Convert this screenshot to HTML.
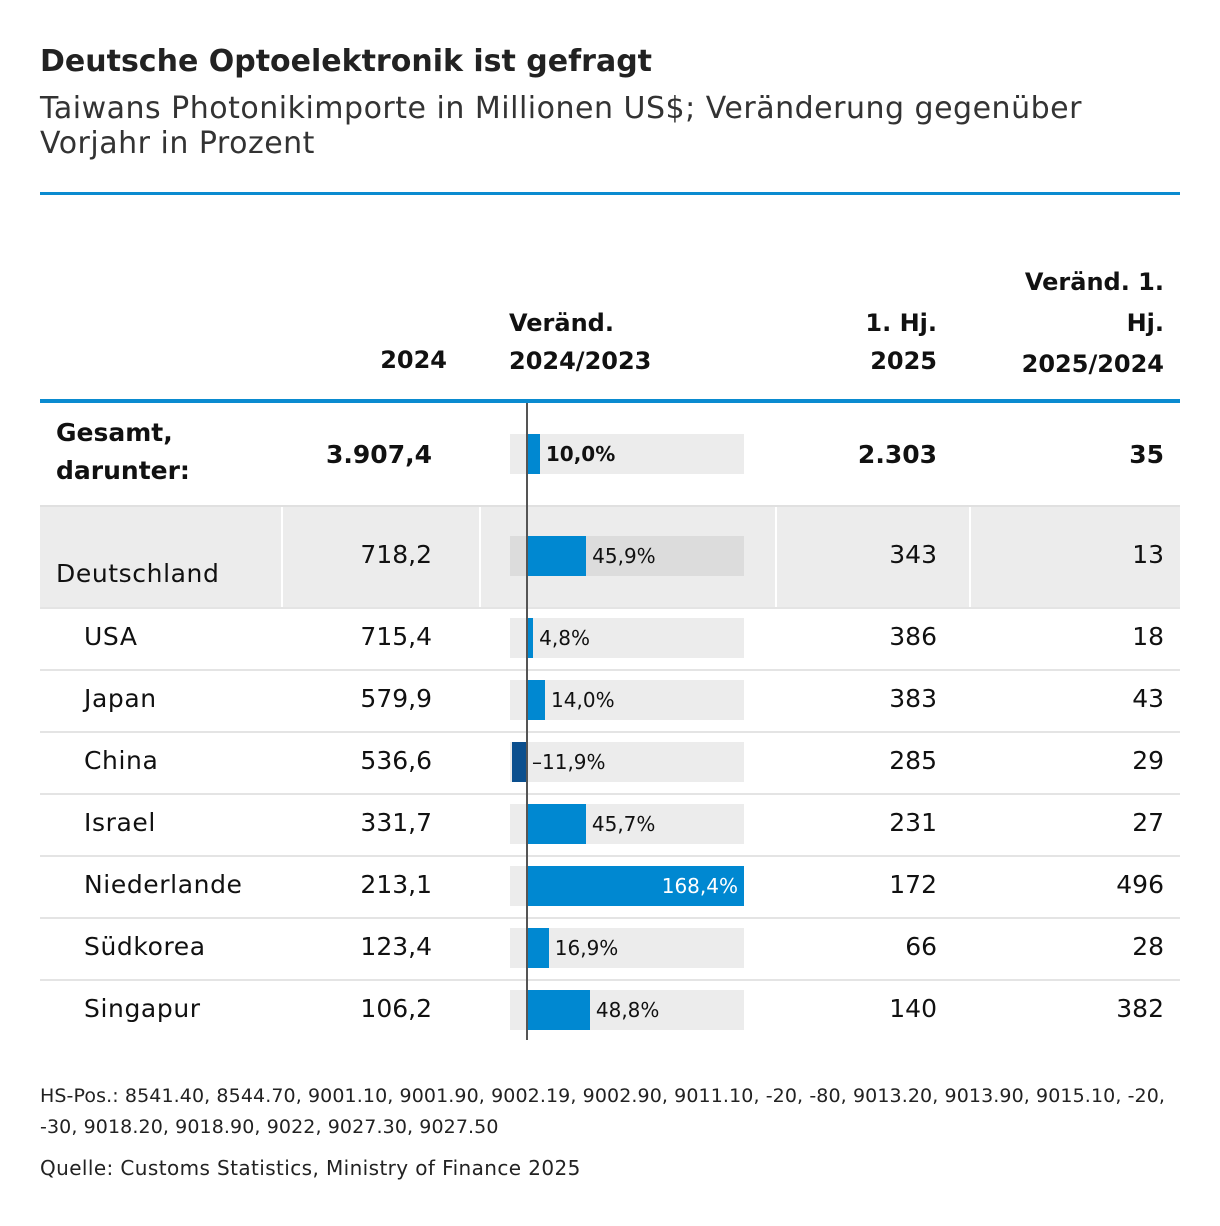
<!DOCTYPE html>
<html><head><meta charset="utf-8"><style>
body{margin:0;background:#fff;font-family:"DejaVu Sans","Liberation Sans",sans-serif;color:#111;}
#root{position:relative;width:1220px;height:1226px;overflow:hidden;}
.a{position:absolute;white-space:nowrap;}
.r{text-align:right;}
</style></head><body><div id="root">
<div class="a" style="left:40px;top:44px;font-size:30px;font-weight:bold;color:#222">Deutsche Optoelektronik ist gefragt</div>
<div class="a" style="left:40px;top:91px;font-size:30px;line-height:35px;color:#333;white-space:normal;width:1100px;letter-spacing:0.5px">Taiwans Photonikimporte in Millionen US$; Veränderung gegenüber Vorjahr in Prozent</div>
<div class="a" style="left:40px;top:192px;width:1140px;height:3px;background:#0a8bd0"></div>
<div class="a r" style="left:300px;width:147px;top:346px;font-size:24px;font-weight:bold">2024</div>
<div class="a" style="left:509px;top:304px;font-size:24px;font-weight:bold;line-height:38px">Veränd.<br>2024/2023</div>
<div class="a r" style="left:780px;width:157px;top:304px;font-size:24px;font-weight:bold;line-height:38px">1. Hj.<br>2025</div>
<div class="a r" style="left:960px;width:204px;top:262px;font-size:24px;font-weight:bold;line-height:41px">Veränd. 1.<br>Hj.<br>2025/2024</div>
<div class="a" style="left:40px;top:399px;width:1140px;height:4px;background:#0a8bd0"></div>
<div class="a" style="left:40px;top:1081px;font-size:19px;line-height:31px;color:#222;white-space:normal;width:1140px;letter-spacing:0.1px">HS-Pos.: 8541.40, 8544.70, 9001.10, 9001.90, 9002.19, 9002.90, 9011.10, -20, -80, 9013.20, 9013.90, 9015.10, -20, -30, 9018.20, 9018.90, 9022, 9027.30, 9027.50</div>
<div class="a" style="left:40px;top:1156px;font-size:20px;color:#222;letter-spacing:0.4px">Quelle: Customs Statistics, Ministry of Finance 2025</div>
</div>
<script>
const countries=["Deutschland","USA","Japan","China","Israel","Niederlande","Südkorea","Singapur"];
const values2024=["718,2","715,4","579,9","536,6","331,7","213,1","123,4","106,2"];
const change2024=[45.9,4.8,14.0,-11.9,45.7,168.4,16.9,48.8];
const h1_2025=["343","386","383","285","231","172","66","140"];
const changeH1=["13","18","43","29","27","496","28","382"];
const totalChange=10.0;
const root=document.getElementById('root');
const zeroX=527, scale=(744-527)/168.4;
function xs(v){return zeroX+v*scale;}
function fmt(v){return (v<0?'–':'')+Math.abs(v).toFixed(1).replace('.',',')+'%';}
function div(name,css,text){const d=document.createElement('div');d.className='a';d.style.cssText=css;if(text!==undefined)d.textContent=text;


root.appendChild(d);return d;}
function bar(v,cy,bold,name){
 div(name+'-track',`left:510px;top:${cy-20}px;width:234px;height:40px;background:${name==='bar-deutschland'?'#dcdcdc':'#ececec'}`);
 const x0=Math.min(xs(0),xs(v)),w=Math.abs(xs(v)-xs(0));
 div(name,`left:${x0}px;top:${cy-20}px;width:${w}px;height:40px;background:${v<0?'#0b4f8e':'#0088d1'}`);
 const inside=xs(v)>680;
 const lx=v<0?xs(0)+5:xs(v)+6;
 if(inside) div(name+'-label',`left:${xs(v)-140}px;width:134px;text-align:right;top:${cy-20}px;line-height:40px;font-size:20px;color:#fff`,fmt(v));
 else div(name+'-label',`left:${lx}px;top:${cy-20}px;line-height:40px;font-size:20px;${bold?'font-weight:bold;':''}color:#111`,fmt(v));
}
div('total-label','left:56px;top:414px;font-size:25px;font-weight:bold;line-height:38px;white-space:pre','Gesamt,\ndarunter:');
div('total-2024','left:260px;width:172px;text-align:right;top:440px;font-size:25px;font-weight:bold','3.907,4');
bar(totalChange,454,true,'bar-total');
div('total-h1','left:780px;width:157px;text-align:right;top:440px;font-size:25px;font-weight:bold','2.303');
div('total-change-h1','left:980px;width:184px;text-align:right;top:440px;font-size:25px;font-weight:bold','35');
div('deutschland-row-bg','left:40px;top:505px;width:1140px;height:102px;background:#ececec;border-top:2px solid #e0e0e0;box-sizing:border-box');
[281,479,775,969].forEach((x,i)=>div('deutschland-sep-'+i,`left:${x}px;top:507px;width:2px;height:100px;background:#fff`));
countries.forEach((c,i)=>{
 const cy=i===0?556:638+(i-1)*62;
 const key=c.toLowerCase();
 if(i>0) div('row-rule-'+key,`left:40px;top:${cy-31}px;width:1140px;height:2px;background:#e4e4e4`);
 const ly=i===0?cy+3:cy-16;
 div('country-'+key,`left:${i===0?56:84}px;top:${ly}px;font-size:25px;letter-spacing:0.6px`,c);
 div('value-2024-'+key,`left:260px;width:172px;text-align:right;top:${cy-16}px;font-size:25px`,values2024[i]);
 bar(change2024[i],cy,false,'bar-'+key);
 div('value-h1-'+key,`left:780px;width:157px;text-align:right;top:${cy-16}px;font-size:25px`,h1_2025[i]);
 div('change-h1-'+key,`left:980px;width:184px;text-align:right;top:${cy-16}px;font-size:25px`,changeH1[i]);
});
div('zero-axis',`left:${zeroX-1}px;top:403px;width:2px;height:637px;background:#555`);
</script></body></html>
